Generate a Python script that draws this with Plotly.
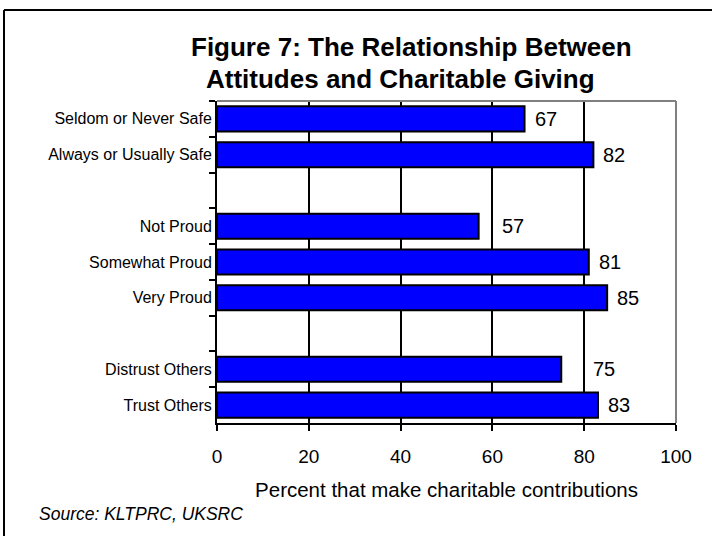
import plotly.graph_objects as go

categories = ["Seldom or Never Safe", "Always or Usually Safe", " ",
              "Not Proud", "Somewhat Proud", "Very Proud", "  ",
              "Distrust Others", "Trust Others"]
values = [67, 82, None, 57, 81, 85, None, 75, 83]
label_shift = [8, 8, 0, 21, 8, 8, 0, 30, 8]
x_ticks = [0, 20, 40, 60, 80, 100]

FONT = "Liberation Sans, Arial, sans-serif"

fig = go.Figure()
fig.add_trace(go.Bar(
    y=categories, x=values, orientation="h",
    marker=dict(color="#0000FF", line=dict(color="black", width=2)),
    width=0.7, hoverinfo="skip", showlegend=False,
))

annotations = []
for c, v, s in zip(categories, values, label_shift):
    if v is None:
        continue
    annotations.append(dict(x=v, y=c, xref="x", yref="y", text=str(v),
                            showarrow=False, xanchor="left", yanchor="middle",
                            xshift=s, font=dict(family=FONT, size=20, color="black")))

annotations += [
    dict(text="<b>Figure 7: The Relationship Between</b>", xref="paper", yref="paper",
         x=(411 - 217) / 459, y=1 + (101 - 47) / 322, showarrow=False,
         xanchor="center", yanchor="middle", font=dict(family=FONT, size=26, color="black")),
    dict(text="<b>Attitudes and Charitable Giving</b>", xref="paper", yref="paper",
         x=(400 - 217) / 459, y=1 + (101 - 79) / 322, showarrow=False,
         xanchor="center", yanchor="middle", font=dict(family=FONT, size=26, color="black")),
    dict(text="<i>Source: KLTPRC, UKSRC</i>", xref="paper", yref="paper",
         x=(37 - 217) / 459, y=-(514 - 423) / 322, showarrow=False,
         xanchor="left", yanchor="middle", font=dict(family=FONT, size=17.5, color="black")),
]

shapes = [
    dict(type="line", xref="paper", yref="paper", x0=0, x1=1, y0=1, y1=1,
         line=dict(color="#808080", width=2), layer="above"),
    dict(type="line", xref="paper", yref="paper", x0=1, x1=1, y0=0, y1=1,
         line=dict(color="#808080", width=2), layer="above"),
    # outer frame (left and top)
    dict(type="line", xref="paper", yref="paper",
         x0=(4 - 217) / 459, x1=(4 - 217) / 459, y0=-(540 - 423) / 322, y1=1 + (101 - 10) / 322,
         line=dict(color="black", width=2)),
    dict(type="line", xref="paper", yref="paper",
         x0=(4 - 217) / 459, x1=(716 - 217) / 459, y0=1 + (101 - 10) / 322, y1=1 + (101 - 10) / 322,
         line=dict(color="black", width=2)),
]

fig.update_layout(
    width=712, height=536,
    margin=dict(l=217, r=36, t=101, b=113),
    paper_bgcolor="white", plot_bgcolor="white",
    bargap=0.3,
    annotations=annotations, shapes=shapes,
    font=dict(family=FONT, color="black"),
    xaxis=dict(range=[0, 100], tickvals=x_ticks, ticks="outside", ticklen=6, tickwidth=2,
               tickcolor="black", showline=True, linecolor="black", linewidth=2,
               showgrid=True, gridcolor="black", gridwidth=2, zeroline=False,
               ticklabelstandoff=9,
               tickfont=dict(family=FONT, size=19, color="black"),
               title=dict(text="Percent that make charitable contributions",
                          font=dict(family=FONT, size=20.5, color="black"), standoff=17),
               fixedrange=True),
    yaxis=dict(autorange="reversed", type="category", categoryorder="array",
               categoryarray=categories, ticks="outside", tickson="boundaries",
               ticklen=6, tickwidth=2, tickcolor="black", showline=True,
               linecolor="black", linewidth=2, showgrid=False,
               tickfont=dict(family=FONT, size=16, color="black"), fixedrange=True),
)

fig.write_html("out.html", config={"displayModeBar": False},
               post_script="document.body.style.margin='0';document.body.style.overflow='hidden';")
